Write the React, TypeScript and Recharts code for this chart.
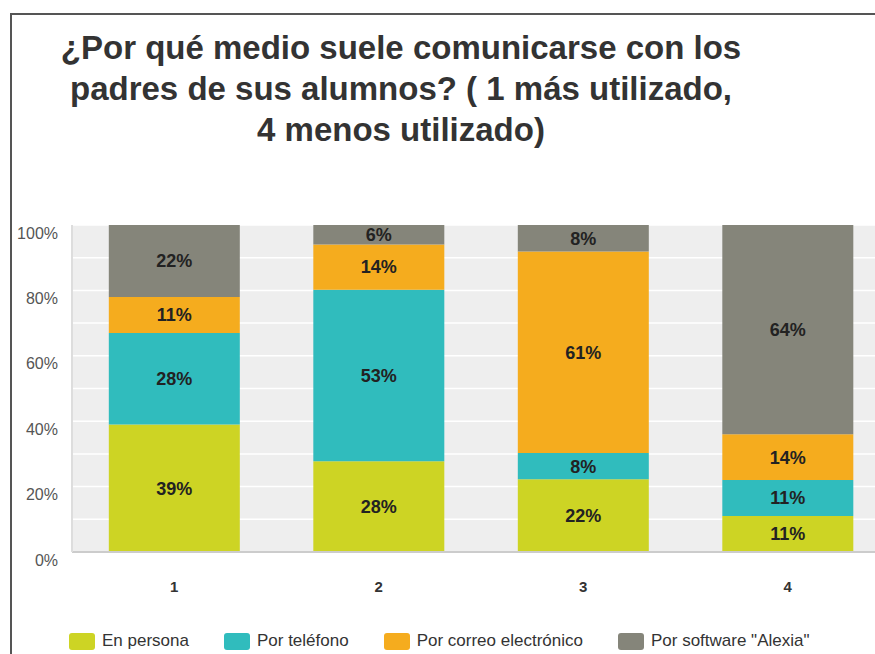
import React from "react";
import { BarChart, Bar, XAxis, YAxis, CartesianGrid, LabelList, Legend } from "recharts";

const categories = ["1", "2", "3", "4"];
const enPersona = [39, 28, 22, 11];
const porTelefono = [28, 53, 8, 11];
const porCorreo = [11, 14, 61, 14];
const porAlexia = [22, 6, 8, 64];
const yTicks = [0, 0.1, 0.2, 0.3, 0.4, 0.5, 0.6, 0.7, 0.8, 0.9, 1];
const titleLines = [
  "¿Por qué medio suele comunicarse con los",
  "padres de sus alumnos? ( 1 más utilizado,",
  "4 menos utilizado)",
];

const series = [
  { key: "persona", name: "En persona", color: "#cdd424", values: enPersona },
  { key: "telefono", name: "Por teléfono", color: "#30bcbd", values: porTelefono },
  { key: "correo", name: "Por correo electrónico", color: "#f5ac1e", values: porCorreo },
  { key: "alexia", name: 'Por software "Alexia"', color: "#85857a", values: porAlexia },
];

const data = categories.map((c, i) => {
  const row: any = { cat: c };
  series.forEach((s) => {
    row[s.key] = s.values[i];
  });
  return row;
});

const FONT = '"Liberation Sans", Arial, sans-serif';

const renderLegend = () => {
  return (
    <div style={{ display: "flex", alignItems: "center", height: 26, paddingLeft: 69, fontFamily: FONT }}>
      {series.map((s, i) => (
        <div key={i} style={{ display: "flex", alignItems: "center", marginRight: 35 }}>
          <div style={{ width: 26, height: 17, borderRadius: 3, background: s.color, marginRight: 7 }} />
          <span style={{ fontSize: 17, color: "#333" }}>{s.name}</span>
        </div>
      ))}
    </div>
  );
};

export default function App() {
  return (
    <div style={{ position: "absolute", left: 0, top: 0, width: 875, height: 654, overflow: "hidden", background: "#fff", fontFamily: FONT }}>
      <div style={{ position: "absolute", left: 10, top: 13, right: 0, bottom: 0, borderTop: "2px solid #555", borderLeft: "2px solid #555" }} />
      <div
        style={{
          position: "absolute",
          left: 0,
          top: 27,
          width: 802,
          textAlign: "center",
          fontSize: 33,
          fontWeight: "bold",
          lineHeight: "41px",
          color: "#333",
        }}
      >
        {titleLines.map((l, i) => (
          <div key={i}>{l}</div>
        ))}
      </div>
      <div style={{ position: "absolute", left: 0, top: 0 }}>
        <BarChart
          width={900}
          height={654}
          data={data}
          stackOffset="expand"
          barCategoryGap="18%"
          margin={{ top: 225, right: 10, left: 0, bottom: 0 }}
        >
          <CartesianGrid vertical={false} stroke="#ffffff" strokeWidth={1.5} fill="#eeeeee" />
          <XAxis
            dataKey="cat"
            height={76}
            tickSize={0}
            tickMargin={29}
            axisLine={{ stroke: "#cccccc", strokeWidth: 2 }}
            tickLine={false}
            tick={{ fill: "#333", fontSize: 15, fontWeight: "bold", fontFamily: FONT }}
          />
          <YAxis
            width={72}
            domain={[0, 1]}
            ticks={yTicks}
            interval={0}
            tickSize={0}
            tickMargin={14}
            axisLine={{ stroke: "#dddddd", strokeWidth: 2 }}
            tickLine={false}
            tick={{ fill: "#555", fontSize: 16, fontFamily: FONT, dy: 8 }}
            tickFormatter={(v: number) => {
              const p = Math.round(v * 100);
              return p % 20 === 0 ? `${p}%` : "";
            }}
          />
          <Legend verticalAlign="bottom" height={26} wrapperStyle={{ left: 0, width: 875 }} content={renderLegend} />
          {series.map((s) => (
            <Bar key={s.key} dataKey={s.key} name={s.name} stackId="a" fill={s.color} isAnimationActive={false}>
              <LabelList
                dataKey={s.key}
                position="center"
                formatter={(v: any) => `${v}%`}
                fill="#222"
                fontSize={18}
                fontWeight="bold"
                fontFamily={FONT}
              />
            </Bar>
          ))}
        </BarChart>
      </div>
    </div>
  );
}
